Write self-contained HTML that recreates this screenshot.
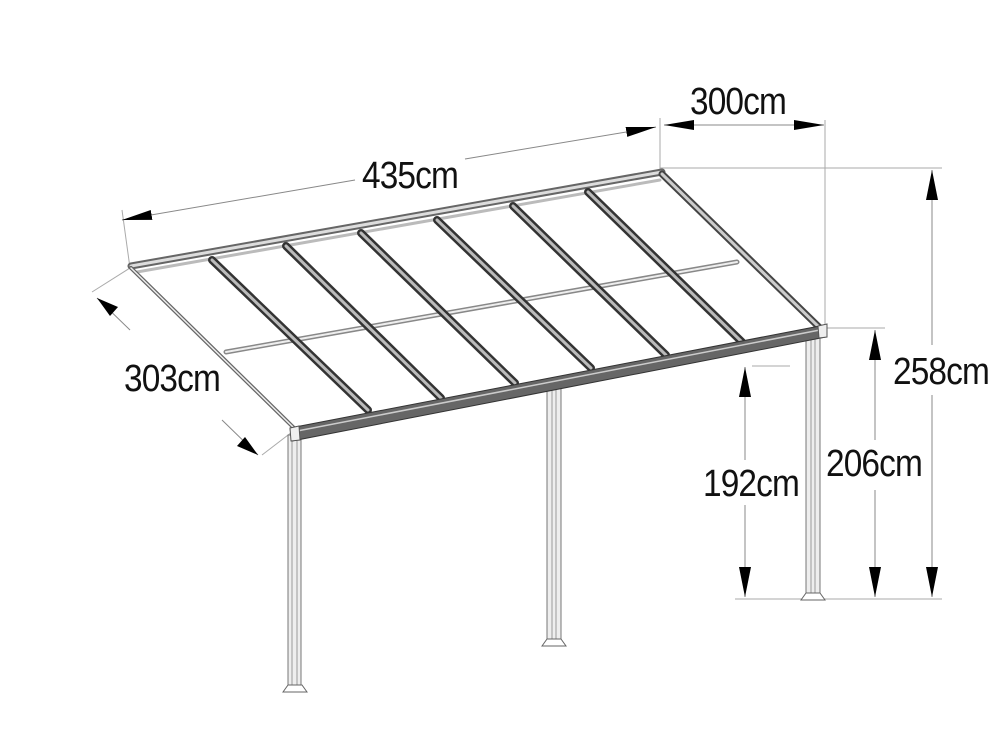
<!DOCTYPE html>
<html><head><meta charset="utf-8"><style>
html,body{margin:0;padding:0;background:#fff;}
svg{display:block;}
text{font-family:"Liberation Sans",sans-serif;font-size:38px;fill:#111;letter-spacing:-1px;}
</style></head><body>
<svg width="1000" height="748" viewBox="0 0 1000 748" xmlns="http://www.w3.org/2000/svg">
<defs>
<marker id="b" viewBox="0 0 30 10" refX="30" refY="5" markerWidth="30" markerHeight="11" markerUnits="userSpaceOnUse" orient="auto-start-reverse"><path d="M0,0 L30,5 L0,10 Z" fill="#000"/></marker>
</defs>
<g stroke="#aaa" stroke-width="1" fill="none">
<line x1="660" y1="168" x2="942" y2="168"/>
<line x1="825" y1="120" x2="825" y2="330"/>
<line x1="660" y1="118" x2="660" y2="170"/>
<line x1="122" y1="210" x2="130" y2="268"/>
<line x1="735" y1="599" x2="942" y2="599"/>
<line x1="826" y1="328" x2="885" y2="328"/>
<line x1="752" y1="366" x2="790" y2="366"/>
<line x1="92" y1="292" x2="130" y2="268"/>
<line x1="262" y1="455" x2="292" y2="432"/>
</g>
<g stroke="#888" stroke-width="1" fill="none">
<line x1="122" y1="220" x2="355" y2="180" marker-start="url(#b)"/>
<line x1="465" y1="159" x2="656" y2="127" marker-end="url(#b)"/>
<line x1="664" y1="125" x2="824" y2="125" marker-start="url(#b)" marker-end="url(#b)"/>
<line x1="932" y1="170" x2="932" y2="345"/>
<line x1="932" y1="395" x2="932" y2="597"/>
<line x1="875" y1="330" x2="875" y2="440"/>
<line x1="875" y1="490" x2="875" y2="597"/>
<line x1="745" y1="367" x2="745" y2="460"/>
<line x1="745" y1="505" x2="745" y2="597"/>
<line x1="97" y1="298" x2="130" y2="330"/>
<line x1="222" y1="420" x2="258" y2="455"/>
</g>
<g fill="#000">
<path d="M932,170 L926,200 L938,200 Z"/><path d="M932,597 L926,567 L938,567 Z"/>
<path d="M875,330 L869,360 L881,360 Z"/><path d="M875,597 L869,567 L881,567 Z"/>
<path d="M745,367 L739,397 L751,397 Z"/><path d="M745,597 L739,567 L751,567 Z"/>
<path d="M97,298 L118,307 L110,316 Z"/><path d="M258,455 L237,446 L245,437 Z"/>
</g>
<text transform="translate(362,188) scale(0.88,1)">435cm</text>
<text transform="translate(690,114) scale(0.88,1)">300cm</text>
<text transform="translate(893,384) scale(0.88,1)">258cm</text>
<text transform="translate(826,476) scale(0.88,1)">206cm</text>
<text transform="translate(703,496) scale(0.88,1)">192cm</text>
<text transform="translate(124,391) scale(0.88,1)">303cm</text>
<g fill="#eee" stroke="#777" stroke-width="1">
<rect x="288" y="435" width="13" height="253"/>
<rect x="547" y="385" width="14" height="258"/>
<rect x="806" y="338" width="14" height="260"/>
</g>
<g stroke="#999" stroke-width="1">
<line x1="292" y1="435" x2="292" y2="688"/><line x1="297" y1="435" x2="297" y2="688"/>
<line x1="552" y1="385" x2="552" y2="643"/><line x1="556" y1="385" x2="556" y2="643"/>
<line x1="811" y1="338" x2="811" y2="598"/><line x1="815" y1="338" x2="815" y2="598"/>
</g>
<g fill="#fff" stroke="#666" stroke-width="1">
<path d="M283,692 L288,685 L302,685 L307,692 Z"/>
<path d="M542,646 L547,639 L561,639 L566,646 Z"/>
<path d="M801,600 L806,593 L820,593 L825,600 Z"/>
</g>
<g fill="none" stroke-linecap="round">
<line x1="131" y1="266" x2="662" y2="172" stroke="#666" stroke-width="7"/>
<line x1="131" y1="266" x2="662" y2="172" stroke="#ddd" stroke-width="3"/>
<line x1="137" y1="272" x2="660" y2="180" stroke="#bbb" stroke-width="3"/>
<line x1="226" y1="352" x2="737" y2="262" stroke="#888" stroke-width="5"/>
<line x1="226" y1="352" x2="737" y2="262" stroke="#eee" stroke-width="2"/>
<line x1="131" y1="268" x2="294" y2="428" stroke="#666" stroke-width="4"/>
<line x1="131" y1="268" x2="294" y2="428" stroke="#eee" stroke-width="1.5"/>
<line x1="662" y1="174" x2="822" y2="330" stroke="#444" stroke-width="7"/>
<line x1="662" y1="174" x2="822" y2="330" stroke="#ccc" stroke-width="3"/>
<g stroke="#333" stroke-width="8">
<line x1="212" y1="260" x2="368" y2="410"/>
<line x1="286" y1="246" x2="441" y2="398"/>
<line x1="361" y1="233" x2="515" y2="383"/>
<line x1="437" y1="220" x2="591" y2="368"/>
<line x1="513" y1="206" x2="666" y2="355"/>
<line x1="588" y1="192" x2="742" y2="342"/>
</g>
<g stroke="#bbb" stroke-width="3">
<line x1="212" y1="260" x2="368" y2="410"/>
<line x1="286" y1="246" x2="441" y2="398"/>
<line x1="361" y1="233" x2="515" y2="383"/>
<line x1="437" y1="220" x2="591" y2="368"/>
<line x1="513" y1="206" x2="666" y2="355"/>
<line x1="588" y1="192" x2="742" y2="342"/>
</g>
</g>
<path d="M290,428 L825,325 L826,337 L292,441 Z" fill="#666" stroke="#333" stroke-width="1"/>
<path d="M292,432 L825,329" stroke="#ccc" stroke-width="1.5"/>
<path d="M290,428 L299,426 L300,440 L291,441 Z" fill="#eee" stroke="#555" stroke-width="1"/>
<path d="M818,326 L827,324 L827,337 L819,338 Z" fill="#eee" stroke="#555" stroke-width="1"/>
</svg>
</body></html>
